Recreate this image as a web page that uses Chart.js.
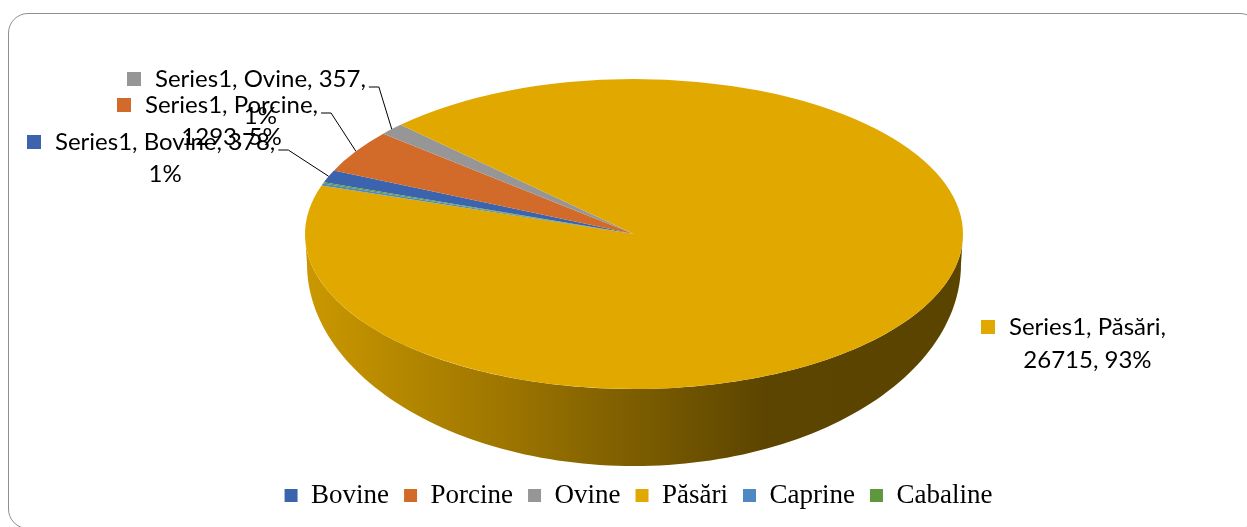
<!DOCTYPE html>
<html>
<head>
<meta charset="utf-8">
<script src="https://cdn.jsdelivr.net/npm/chart.js@4"></script>
<style>
    html, body { margin: 0; padding: 0; background: #fff; overflow: hidden; }
    #wrap { position: relative; width: 1247px; height: 527px; }
    #frame {
        position: absolute; left: 8px; top: 13px; width: 1252px; height: 516px;
        border: 1.5px solid #8f8f8f; border-radius: 20px; box-sizing: border-box;
    }
    canvas { position: absolute; left: 0; top: 0; }
</style>
</head>
<body>
<div id="wrap">
    <div id="frame"></div>
    <canvas id="chart" width="1247" height="527"></canvas>
</div>
<script>
    // Data
    const seriesName = 'Series1';
    const categories = ['Bovine', 'Porcine', 'Ovine', 'Păsări', 'Caprine', 'Cabaline'];
    const values = [378, 1293, 357, 26715, 60, 40];
    const sliceColors = ['#3C64AE', '#D26B29', '#969696', '#E1A900', '#4F89C3', '#5F983C'];

    // Layout of the 3d pie (screen pixels)
    const pie = { cx: 634, cy: 234, rx: 329, ry: 155, bcy: 264, brx: 327, bry: 202 };

    // Data label boxes: square left x, first line centre y, how many parts on line 1
    const labelLayout = [
        { x: 27, y: 142, breakAt: 3, gap: 32, leader: true },
        { x: 117, y: 105, breakAt: 2, gap: 32, leader: true },
        { x: 127, y: 79, breakAt: 3, gap: 37, leader: true },
        { x: 981, y: 327, breakAt: 2, gap: 33, leader: false },
        null,
        null,
    ];
    const labelFont = '24px Lato, "Open Sans", sans-serif';

    const total = values.reduce((a, b) => a + b, 0);

    // whole percentages that add up to 100 (largest remainder)
    const percents = (function () {
        const raw = values.map((v) => v / total * 100);
        const out = raw.map(Math.floor);
        let left = 100 - out.reduce((a, b) => a + b, 0);
        raw.map((r, i) => [r - Math.floor(r), i])
            .sort((a, b) => b[0] - a[0])
            .forEach(([, i]) => { if (left > 0) { out[i]++; left--; } });
        return out;
    })();

    const shade = function (hex, f) {
        const n = parseInt(hex.slice(1), 16);
        const r = Math.round(((n >> 16) & 255) * f);
        const g = Math.round(((n >> 8) & 255) * f);
        const b = Math.round((n & 255) * f);
        return `rgb(${r},${g},${b})`;
    };

    const topPt = (a) => [pie.cx + pie.rx * Math.cos(a), pie.cy + pie.ry * Math.sin(a)];
    const botPt = (a) => [pie.cx + pie.brx * Math.cos(a), pie.bcy + pie.bry * Math.sin(a)];

    // Squash the chart.js pie into the ellipse and draw the extruded side
    const pie3d = {
        id: 'pie3d',
        beforeDatasetsDraw(chart) {
            const ctx = chart.ctx;
            const meta = chart.getDatasetMeta(0);
            const first = meta.data[0];
            const r = first.outerRadius;

            // side walls (front half only)
            meta.data.forEach((arc, i) => {
                const s = arc.startAngle, e = arc.endAngle;
                for (let k = -1; k <= 2; k++) {
                    const lo = Math.max(s, 2 * Math.PI * k);
                    const hi = Math.min(e, 2 * Math.PI * k + Math.PI);
                    if (lo >= hi) continue;
                    const grad = ctx.createLinearGradient(pie.cx - pie.rx, 0, pie.cx + pie.rx, 0);
                    grad.addColorStop(0, shade(sliceColors[i], 0.9));
                    grad.addColorStop(0.3, shade(sliceColors[i], 0.7));
                    grad.addColorStop(0.5, shade(sliceColors[i], 0.55));
                    grad.addColorStop(0.7, shade(sliceColors[i], 0.41));
                    grad.addColorStop(1, shade(sliceColors[i], 0.4));
                    ctx.beginPath();
                    const steps = 120;
                    for (let j = 0; j <= steps; j++) {
                        const p = topPt(lo + (hi - lo) * j / steps);
                        j === 0 ? ctx.moveTo(p[0], p[1]) : ctx.lineTo(p[0], p[1]);
                    }
                    for (let j = steps; j >= 0; j--) {
                        const p = botPt(lo + (hi - lo) * j / steps);
                        ctx.lineTo(p[0], p[1]);
                    }
                    ctx.closePath();
                    ctx.fillStyle = grad;
                    ctx.fill();
                }
            });

            ctx.save();
            ctx.translate(pie.cx, pie.cy);
            ctx.scale(pie.rx / r, pie.ry / r);
            ctx.translate(-first.x, -first.y);
        },
        afterDatasetsDraw(chart) {
            chart.ctx.restore();
        },
        afterDraw(chart) {
            const ctx = chart.ctx;
            const meta = chart.getDatasetMeta(0);
            ctx.save();
            ctx.font = labelFont;
            ctx.textBaseline = 'middle';
            meta.data.forEach((arc, i) => {
                const lay = labelLayout[i];
                if (!lay) return;
                const parts = [seriesName, categories[i], String(values[i]), percents[i] + '%'];
                const line1 = parts.slice(0, lay.breakAt).join(', ') + ',';
                const line2 = parts.slice(lay.breakAt).join(', ');
                const tx = lay.x + 28;
                const w1 = ctx.measureText(line1).width;

                ctx.fillStyle = sliceColors[i];
                ctx.fillRect(lay.x, lay.y - 7, 14, 14);

                ctx.fillStyle = '#000';
                ctx.textAlign = 'left';
                ctx.fillText(line1, tx, lay.y);
                ctx.textAlign = 'center';
                ctx.fillText(line2, tx + w1 / 2, lay.y + lay.gap);

                if (lay.leader) {
                    const mid = (arc.startAngle + arc.endAngle) / 2;
                    const p = topPt(mid);
                    const sx = tx + w1 + 3, sy = lay.y + 8;
                    ctx.beginPath();
                    ctx.moveTo(sx, sy);
                    ctx.lineTo(sx + 10, sy);
                    ctx.lineTo(p[0], p[1]);
                    ctx.strokeStyle = '#000';
                    ctx.lineWidth = 1;
                    ctx.stroke();
                }
            });
            ctx.restore();
        },
    };

    new Chart(document.getElementById('chart'), {
        type: 'pie',
        data: {
            labels: categories,
            datasets: [{
                label: seriesName,
                data: values,
                backgroundColor: sliceColors,
                borderWidth: 0,
                clip: false,
            }],
        },
        options: {
            responsive: false,
            animation: false,
            rotation: 289.5,
            layout: { padding: { bottom: 8, left: 30 } },
            plugins: {
                tooltip: { enabled: false },
                legend: {
                    position: 'bottom',
                    labels: {
                        color: '#000',
                        boxWidth: 13,
                        boxHeight: 13,
                        padding: 15,
                        font: { family: '"Liberation Serif", "Times New Roman", serif', size: 27 },
                    },
                },
            },
        },
        plugins: [pie3d],
    });
</script>
</body>
</html>
